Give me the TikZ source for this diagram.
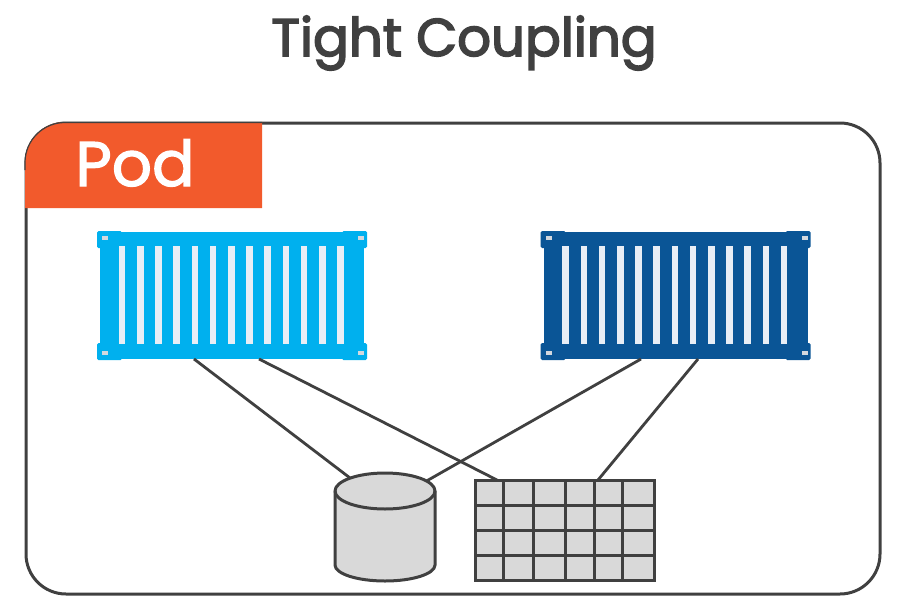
\documentclass[tikz,border=0pt]{standalone}
\usepackage{fontspec}
\setmainfont{Poppins}
\newfontfamily\headfont[FakeBold=3]{Poppins}
\newfontfamily\tabfont[FakeBold=2]{Poppins}
\usetikzlibrary{calc}
\definecolor{ink}{HTML}{404040}
\definecolor{tabred}{HTML}{F25A2C}
\definecolor{lightc}{HTML}{00B0EE}
\definecolor{darkc}{HTML}{0A5596}
\definecolor{stripe}{HTML}{E8EEF6}
\definecolor{fillgray}{HTML}{D9D9D9}
\tikzset{
  x=1pt,y=-1pt,
  line/.style={draw=ink,line width=3pt},
  conn/.style={draw=ink,line width=2.8pt},
  anchorbox/.style={inner sep=0pt,outer sep=0pt,minimum width=#1},
  stripebar/.style={fill=stripe},
  notch/.style={fill=stripe!80!gray},
  titletext/.style={text=ink,font=\headfont\fontsize{53}{60}\selectfont,inner sep=0pt,anchor=base},
  podtext/.style={text=white,font=\tabfont\fontsize{63}{72}\selectfont,inner sep=0pt,anchor=base},
}
\newcommand{\shipbox}[3]{% x-left, colour, node name
  \begin{scope}[shift={(#1,0)}]
    \node[anchorbox=264pt,minimum height=127pt,fill=#2,anchor=north west] (#3) at (3,232) {};
    \fill[#2,rounded corners=1.5pt] (0,231) rectangle (25,248);
    \fill[#2,rounded corners=1.5pt] (0,343) rectangle (25,360);
    \fill[#2,rounded corners=1.5pt] (245,231) rectangle (270,248);
    \fill[#2,rounded corners=1.5pt] (245,343) rectangle (270,360);
    \foreach \i in {0,...,12}{
      \fill[stripebar] ({21.8+18.2*\i},245.7) rectangle ({28.4+18.2*\i},344.3);
    }
    \foreach \nx in {5,261}{
      \fill[notch] (\nx,236) rectangle ({\nx+6},239.5);
      \fill[notch] (\nx,351) rectangle ({\nx+6},354.5);
    }
  \end{scope}
}
\begin{document}
\begin{tikzpicture}
\useasboundingbox (0,0) rectangle (910,608);
\node[titletext] (title) at (464,56) {Tight Coupling};
% pod outline
\draw[line,fill=white,rounded corners=40pt] (26,123) rectangle (880,594);
% tab
\fill[tabred] (25,208) [rounded corners=40pt] -- (25,122) [sharp corners] -- (262,122) -- (262,208) -- cycle;
\draw[draw=ink,line width=1.2pt] (25,170) [rounded corners=40pt] -- (25,122.5) [sharp corners] -- (262,122.5);
\node[podtext] (pod) at (135,186) {Pod};
% containers
\shipbox{97}{lightc}{left}
\shipbox{540.5}{darkc}{right}
% anchors for storage
\node[anchorbox=100pt,minimum height=108pt] (db) at (385,527) {};
\node[anchorbox=179pt,minimum height=100pt] (grid) at (564.5,530) {};
% connectors
\draw[conn] ([xshift=94pt]left.south west) -- ([xshift=19pt,yshift=-8pt]db.north west);
\draw[conn] ([xshift=159pt]left.south west) -- ([xshift=22pt]grid.north west);
\draw[conn] ([xshift=97.5pt]right.south west) -- ([xshift=38pt,yshift=-10pt]db.north);
\draw[conn] ([xshift=154.5pt]right.south west) -- ([xshift=123pt]grid.north west);
% cylinder
\draw[line,fill=fillgray] (335,491) -- (335,565) arc[start angle=180,end angle=360,x radius=50,y radius=-16] -- (435,491) arc[start angle=0,end angle=180,x radius=50,y radius=-18] -- cycle;
\draw[line] (335,491) arc[start angle=180,end angle=360,x radius=50,y radius=-18];
% grid
\fill[fillgray] (grid.north west) rectangle (grid.south east);
\foreach \gx in {475,503.7,533.7,565,594,622.7,654}{\draw[line] (\gx,480) -- (\gx,580);}
\foreach \gy in {480,505,530,555,580}{\draw[line,line cap=rect] (475,\gy) -- (654,\gy);}
\end{tikzpicture}
\end{document}
